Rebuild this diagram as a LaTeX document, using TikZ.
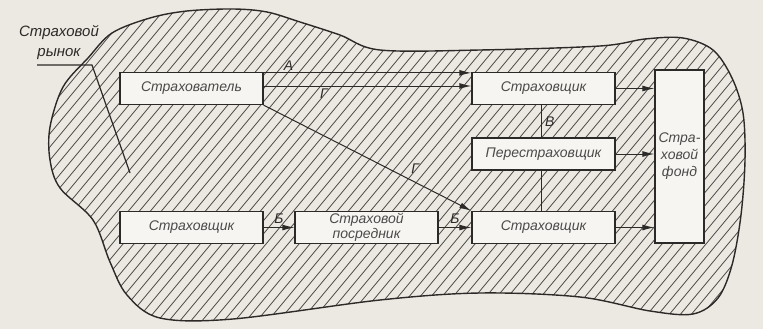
\documentclass[tikz,border=0pt]{standalone}
\usepackage{fontspec}
\setmainfont{Liberation Sans}
\usetikzlibrary{arrows.meta}

\definecolor{paper}{RGB}{236,233,226}
\definecolor{ink}{RGB}{44,42,40}

\begin{document}
\begin{tikzpicture}[x=1pt,y=-1pt]
        \tikzstyle{box}=[draw=ink, line width=1.3pt, fill=white!55!paper, minimum width=143pt, minimum height=32pt, inner sep=0pt, text=ink!85, font=\fontsize{14}{15}\selectfont\itshape]
        \tikzstyle{flow}=[draw=ink, line width=1pt, -{Latex[length=12pt,width=6pt]}]
        \tikzstyle{link}=[draw=ink, line width=1pt]
        \tikzstyle{tag}=[inner sep=1pt, text=ink, font=\fontsize{14}{15}\selectfont\itshape]
        \tikzstyle{hatch}=[ink!85, line width=0.8pt]
        \useasboundingbox[fill=paper] (0,0) rectangle (763,329);
        \def\blob{plot[smooth cycle, tension=0.55] coordinates {(88,58) (63,87) (50,127) (50,160) (60,188) (93,220) (110,262) (127,295) (160,318) (233,319) (380,300) (480,293) (580,297) (650,311) (693,314) (718,298) (732,265) (741,215) (745,160) (743,113) (732,78) (713,50) (683,38) (645,39) (600,46) (480,50) (380,50) (340,35) (300,22) (267,12) (233,9) (187,11) (150,18) (112,33)}}
        % market area
        \begin{scope}
                \clip \blob;
                \foreach \i in {-320,-309,...,770}
                        \draw[hatch] (\i,340) -- ++(300,-360);
        \end{scope}
        \draw[ink, line width=1.4pt] \blob;

        \node[box] (insurant) at (191.5,88.5) {Страхователь};
        \node[box] (insurerA) at (543.5,88.5) {Страховщик};
        \node[box] (reinsurer) at (543.5,154) {Перестраховщик};
        \node[box] (insurerB) at (191.5,227.5) {Страховщик};
        \node[box, align=center] (broker) at (366.5,227.5) {Страховой\\посредник};
        \node[box] (insurerC) at (543.5,227.5) {Страховщик};
        \node[box, minimum width=49pt, minimum height=173pt, align=center, font=\fontsize{14}{17}\selectfont\itshape] (fund) at (679.5,156.5) {Стра-\\ховой\\фонд};

        \draw[flow] ([yshift=-1pt]insurant.north east) -- ([yshift=-1pt]insurerA.north west) node[tag, pos=0.12, above=1pt] {А};
        \draw[flow] ([yshift=2.5pt]insurant.east) -- ([yshift=2.5pt]insurerA.west) node[tag, pos=0.29, below=1pt] {Г};
        \draw[flow] (insurant.south east) -- (insurerC.north west) node[tag, pos=0.69, above right=3pt] {Г};
        \draw[link] ([xshift=-2pt]insurerA.south) -- ([xshift=-2pt]reinsurer.north) node[tag, midway, right=2pt] {В};
        \draw[link] ([xshift=-2pt]reinsurer.south) -- ([xshift=-2pt]insurerC.north);
        \draw[flow] (insurerB.east) -- (broker.west) node[tag, midway, above=3pt] {Б};
        \draw[flow] (broker.east) -- (insurerC.west) node[tag, midway, above=3pt] {Б};
        \draw[flow] (insurerA.east) -- (insurerA.east -| fund.west);
        \draw[flow] (reinsurer.east) -- (reinsurer.east -| fund.west);
        \draw[flow] (insurerC.east) -- (insurerC.east -| fund.west);

        \node[tag, align=center, font=\fontsize{15}{20}\selectfont\itshape] (market) at (59,43) {Страховой\\рынок};
        \coordinate (mkA) at (37,65);
        \coordinate (mkB) at (92,65);
        \coordinate (mkC) at (130,173);
        \draw[link, line width=1.2pt] (mkA) -- (mkB) -- (mkC);
\end{tikzpicture}
\end{document}
